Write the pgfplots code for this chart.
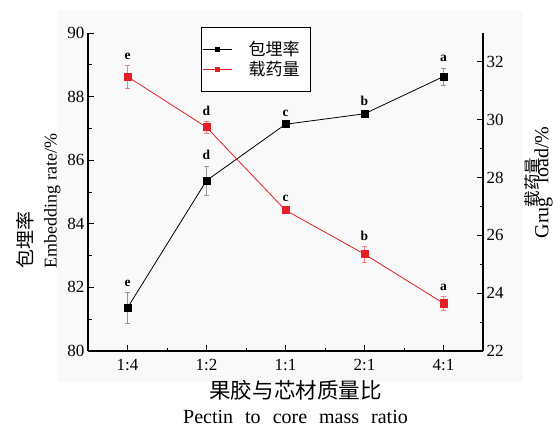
\documentclass[border=0pt]{standalone}
\usepackage{fontspec}
\setmainfont{Liberation Serif}
\newfontfamily\cjk{Noto Sans CJK SC}
\usepackage{pgfplots}
\usepackage{pgfplotstable}
\pgfplotsset{compat=1.18}

\definecolor{dotred}{RGB}{230,30,38}
\definecolor{barred}{RGB}{240,130,130}
\definecolor{bargray}{RGB}{150,150,150}
\definecolor{panel}{RGB}{249,249,249}

% embedding rate (%), left axis, with significance letters
\pgfplotstableread{
x y err lab
0 81.36 0.48 e
1 85.36 0.46 d
2 87.13 0.06 c
3 87.46 0.08 b
4 88.63 0.27 a
}\embed

% drug load (%), right axis
\pgfplotstableread{
x y err lab
0 31.49 0.40 e
1 29.74 0.20 d
2 26.87 0.10 c
3 25.35 0.28 b
4 23.65 0.25 a
}\drugload

\pgfplotsset{
  common/.style={
    scale only axis, width=395pt, height=318pt,
    xmin=-0.5, xmax=4.5, clip=false,
    tick align=inside,
    major tick length=6pt, minor tick length=3.5pt,
    tick style={black, line width=0.9pt},
    axis line style={black, line width=1.2pt},
    ticklabel style={font=\rmfamily\fontsize{17}{17}\selectfont},
    /pgf/number format/assume math mode=true,
    minor y tick num=1,
  },
  % letter above the upper end of each error bar; #1 = pt per y unit
  letters/.style={
    nodes near coords, point meta=explicit symbolic,
    visualization depends on={\thisrow{err} \as \errval},
    nodes near coords style={anchor=base, inner sep=0pt,
      yshift={\errval*#1+6pt},
      text=black, font=\bfseries\fontsize{13.5}{13.5}\selectfont}},
  blackline/.style={black, line width=0.8pt, mark=square*, mark size=3.6pt},
  redline/.style={dotred, line width=0.8pt, mark=square*, mark size=3.6pt},
}

\begin{document}
\begin{tikzpicture}
\useasboundingbox (-88pt,-77pt) rectangle (468pt,351pt);
\fill[panel] (-31pt,-31pt) rectangle (435pt,340pt);

\begin{axis}[common,
  axis x line*=bottom, axis y line*=left,
  xtick={0,...,4}, xticklabels={1:4,1:2,1:1,2:1,4:1}, minor x tick num=1,
  xticklabel style={yshift=-5pt},
  ymin=80, ymax=90, ytick={80,82,...,90},
  xlabel={{\cjk\fontsize{21.5}{25}\selectfont 果胶与芯材质量比}\\Pectin\hspace{0.6em}to\hspace{0.6em}core\hspace{0.6em}mass\hspace{0.6em}ratio},
  xlabel style={align=center, font=\fontsize{20}{25}\selectfont, yshift=-2pt, xshift=10pt},
  ylabel={{\cjk\fontsize{19}{24}\selectfont 包埋率}\\Embedding\hspace{0.3em}rate/\%},
  ylabel style={align=left, font=\fontsize{18}{24}\selectfont, at={(ticklabel cs:0.472)}},
]
\addplot[blackline, letters=31.8pt,
  error bars/.cd, y dir=both, y explicit,
  error bar style={bargray, line width=0.6pt},
  error mark options={rotate=90, bargray, mark size=2.5pt, line width=0.6pt}]
  table[x=x, y=y, y error=err, meta=lab]{\embed};
\end{axis}

\begin{axis}[common,
  axis x line=none, axis y line*=right,
  ymin=22, ymax=33, ytick={22,24,...,32},
  ylabel={{\cjk\fontsize{16.5}{19}\selectfont 载药量}\\[-9pt]Grug\hspace{0.7em}load/\%},
  ylabel style={align=center, font=\fontsize{20}{19}\selectfont,
    at={(ticklabel cs:0.53,14pt)}},
  legend style={at={(0.287,1.019)}, anchor=north west, draw=black,
    line width=0.8pt, fill=white, inner xsep=1pt, inner ysep=12pt,
    font=\cjk\fontsize{17}{19}\selectfont, row sep=0pt},
  legend cell align=left,
  legend image code/.code={
    \draw[#1, mark=none] (0pt,0pt) -- (29pt,0pt);
    \path[#1, mark size=2.2pt] plot coordinates {(14.5pt,0pt)};
  },
]
\addlegendimage{blackline}
\addlegendentry{\hspace*{14pt}包埋率\hspace*{8pt}}
\addplot[redline, letters=28.909pt,
  error bars/.cd, y dir=both, y explicit,
  error bar style={barred, line width=0.6pt},
  error mark options={rotate=90, barred, mark size=2.5pt, line width=0.6pt}]
  table[x=x, y=y, y error=err, meta=lab]{\drugload};
\addlegendentry{\hspace*{14pt}载药量\hspace*{8pt}}
\end{axis}
\end{tikzpicture}
\end{document}
